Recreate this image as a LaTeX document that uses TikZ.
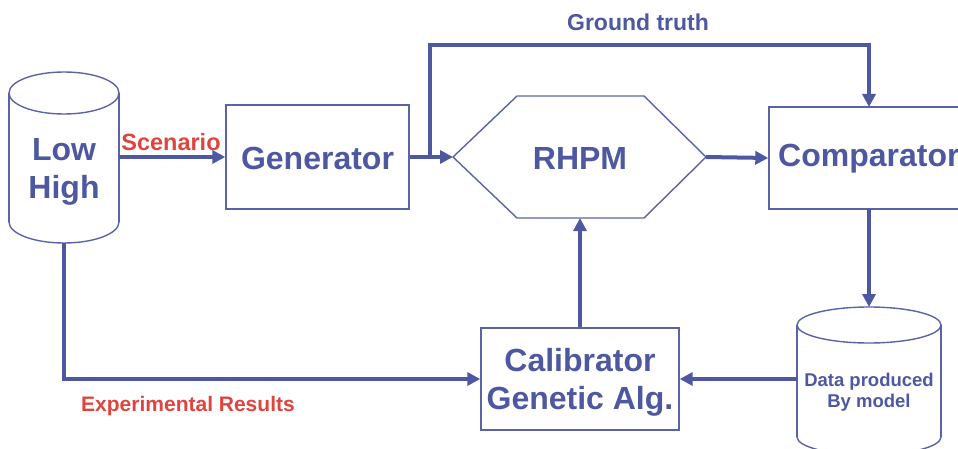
\documentclass[tikz,border=0pt]{standalone}
\usepackage{fontspec}
\setmainfont{Liberation Sans}
\usetikzlibrary{arrows.meta}
\definecolor{navy}{HTML}{4E58A0}
\definecolor{boxline}{HTML}{5A63A8}
\definecolor{redtxt}{HTML}{E0443F}
\tikzset{
  shapeline/.style={draw=boxline, line width=1.4pt},
  boxnode/.style={shapeline, rectangle, inner sep=0pt},
  conn/.style={draw=navy, line width=4pt, -{Triangle[length=13pt,width=13pt]}},
  bigtxt/.style={text=navy, font=\bfseries\fontsize{32}{38}\selectfont, align=center, inner sep=0pt},
  midtxt/.style={text=navy, font=\bfseries\fontsize{23}{27}\selectfont, inner sep=0pt},
  smalltxt/.style={text=navy, font=\bfseries\fontsize{18.5}{21.5}\selectfont, align=center, inner sep=0pt},
  redlabel/.style={text=redtxt, font=\bfseries\fontsize{21}{24}\selectfont, inner sep=0pt},
}
\begin{document}
\begin{tikzpicture}[x=1pt,y=-1pt]
\useasboundingbox (0,0) rectangle (958,449);
\clip (0,0) rectangle (958,449);
% Low/High cylinder
\draw[shapeline] (64,93) ellipse [x radius=55, y radius=21];
\draw[shapeline] (9,93) -- (9,222) (119,93) -- (119,222);
\begin{scope}
  \clip (0,222) rectangle (130,260);
  \draw[shapeline] (64,222) ellipse [x radius=55, y radius=21];
\end{scope}
\node[bigtxt] (lowhigh) at (64,172) {Low\\High};
\coordinate (lhright) at (119,157);
\coordinate (lhbottom) at (64,243);
% Generator
\node[boxnode, minimum width=183pt, minimum height=104pt] (gen) at (317.5,157) {};
\node[bigtxt] (gentxt) at (317.5,158) {Generator};
% RHPM hexagon
\coordinate (hl) at (453,157);
\coordinate (hr) at (706,157);
\coordinate (hb) at (580,218);
\draw[shapeline] (hl) -- (517,96) -- (644,96) -- (hr) -- (644,218) -- (517,218) -- cycle;
\node[bigtxt] (rhpm) at (580,158) {RHPM};
% Comparator
\node[boxnode, minimum width=210pt, minimum height=102pt] (comp) at (874,158) {};
\node[bigtxt, anchor=west] (comptxt) at (778,159) {Comparator};
\coordinate (compin) at (869,107);
\coordinate (compout) at (869,209);
% Data cylinder
\draw[shapeline] (869,325) ellipse [x radius=72, y radius=18];
\draw[shapeline] (797,325) -- (797,437) (941,325) -- (941,437);
\begin{scope}
  \clip (790,437) rectangle (950,470);
  \draw[shapeline] (869,437) ellipse [x radius=72, y radius=18];
\end{scope}
\node[smalltxt] (data) at (869,392) {Data produced\\By model};
\coordinate (datatop) at (869,307);
\coordinate (dataleft) at (797,379);
% Calibrator
\node[boxnode, minimum width=198pt, minimum height=102pt] (calib) at (580,379) {};
\node[bigtxt] (calibtxt) at (580,382) {Calibrator\\Genetic Alg.};
% connectors
\draw[conn] (lhright) -- (gen.west);
\node[redlabel] (scen) at (171,142) {\fontsize{23.5}{27}\selectfont Scenario};
\draw[conn] (gen.east) -- (hl);
\coordinate (gt0) at (430,157);
\coordinate (gtr) at (869,45);
\draw[conn] (gt0) |- (gtr) -- (compin);
\node[midtxt] (gt) at (638,22) {Ground truth};
\draw[conn] (hr) -- (comp.west);
\draw[conn] (compout) -- (datatop);
\draw[conn] (dataleft) -- (calib.east);
\draw[conn] (calib.north) -- (hb);
\draw[conn] (lhbottom) |- (calib.west);
\node[redlabel] (exp) at (188,406) {Experimental Results};
\end{tikzpicture}
\end{document}
